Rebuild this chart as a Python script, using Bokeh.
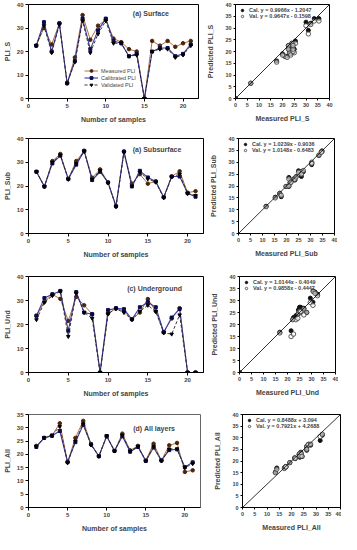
from bokeh.plotting import figure
from bokeh.layouts import column, row
from bokeh.models import Label, Legend, LegendItem, Slope, Range1d
from bokeh.embed import file_html
from bokeh.resources import INLINE

FONT = "Liberation Sans"

samples = list(range(1, 22))

# (a) Surface
s_measured = [22.5, 30, 23, 32, 6.5, 17.5, 35.5, 25, 31, 33.5, 25.5, 24, 21, 20, 0, 24.5, 22.5, 24.5, 22, 23.5, 24.5]
s_calibrated = [22.5, 32.5, 20, 32, 6.5, 16, 34, 21, 29, 34, 24.5, 23.5, 18, 19, 0, 20, 21.5, 21.5, 18, 19, 23]
s_validated = [22.5, 31, 19.5, 31.5, 6.5, 15.5, 33, 19.5, 27.5, 33, 23.5, 23.5, 18, 18.5, 0, 20, 21, 21, 17.5, 18.5, 22.5]

# (a) Subsurface
b_measured = [26, 19.8, 30.5, 33.5, 23, 30.5, 34.8, 23.5, 27, 21.5, 11.5, 34.5, 21, 25, 21, 21.9, 15.3, 24, 26.2, 17.2, 17.8]
b_calibrated = [26, 19.8, 29.5, 32.8, 23, 29, 34.8, 22.5, 26, 21.5, 11.5, 34.5, 19.8, 26.4, 23.6, 21.9, 15.3, 24, 24, 17, 15.5]
b_validated = [26, 19.8, 30, 33, 22.8, 29.5, 34.5, 22.8, 26.5, 21.3, 11.3, 34.2, 20, 25.8, 23, 21.6, 15, 23.8, 25, 16.8, 16]

# (c) Underground
u_measured = [23.5, 29.5, 32.5, 30.7, 21.5, 31.5, 28, 24.3, 0, 24.5, 26.8, 25.5, 22.2, 25, 30.6, 25.5, 16.8, 22.5, 26.8, 0, 0]
u_calibrated = [23.7, 31, 32.6, 34, 17.4, 33.5, 25, 24.3, 0, 26, 26.8, 26.4, 22.2, 27.2, 29.3, 27.2, 16.8, 22.9, 26.5, 0, 0]
u_validated = [22, 29.2, 32, 33.8, 15, 33, 25, 22.6, 0, 24.5, 26.5, 25, 22, 25.5, 28, 25.4, 16.5, 16, 24, 0, 0]

# (d) All layers
a_measured = [23.2, 26.2, 27, 31.7, 17.1, 26.2, 32.6, 23.8, 19.3, 26.8, 21.3, 27.8, 21.5, 23.2, 17.7, 24, 17.7, 23.4, 24.3, 13.4, 14]
a_calibrated = [22.8, 26.2, 27, 28.8, 17.1, 24.6, 31.1, 23.8, 19.3, 26.8, 21.3, 26.8, 21, 22.8, 17.5, 22.6, 17.7, 21.6, 21.9, 15.2, 17]
a_validated = [23, 26.2, 27.2, 30.5, 16.8, 25, 31.5, 23.5, 19.3, 27, 21.3, 27.2, 21.2, 23, 17.5, 23, 17.5, 22, 22, 15, 16.5]

titles = ["(a) Surface", "(a) Subsurface", "(c) Underground", "(d) All layers"]
short = ["PLI_S", "PLI_Sub", "PLI_Und", "PLI_All"]
cal_eq = ["Cal. y = 0.9966x - 1.2047", "Cal. y = 1.0239x - 0.9036",
          "Cal. y = 1.0144x - 0.4049", "Cal. y = 0.8488x + 3.094"]
val_eq = ["Val. y = 0.9647x - 0.1598", "Val. y = 1.0148x - 0.6483",
          "Val. y = 0.9858x - 0.4447", "Val. y = 0.7921x + 4.2688"]
line_y_max = [40, 40, 40, 35]
line_y_ticks = [[0, 10, 20, 30, 40], [0, 10, 20, 30, 40], [0, 10, 20, 30, 40], [0, 5, 10, 15, 20, 25, 30, 35]]
x_ticks = [0, 5, 10, 15, 20]
sc_ticks = [0, 5, 10, 15, 20, 25, 30, 35, 40]

data = [(s_measured, s_calibrated, s_validated),
        (b_measured, b_calibrated, b_validated),
        (u_measured, u_calibrated, u_validated),
        (a_measured, a_calibrated, a_validated)]

# layout per row: (top, frame_h, bottom), line (left, frame_w, right), scatter (left, frame_w, right)
rows_v = [(4, 94, 30), (10, 95, 37), (6, 96, 37), (5, 94, 26)]
line_h = [(22, 176, 6), (25, 178, 4), (24, 179, 4), (21, 179, 4)]
scat_h = [(28, 97, 6), (29, 98, 3), (32, 96, 3), (38, 98, 1)]
title_pos = [(13.5, 36.0), (13.1, 35.4), (12.4, 35.0), (13.4, 29.8)]

M_LINE = "#b3703c"
M_MARK = "#4a2408"
C_LINE = "#3a3aa8"
C_MARK = "#0a0a50"
V_LINE = "#222222"


def style(p, tick_size, label_size, outline="black"):
    for ax in list(p.xaxis) + list(p.yaxis):
        ax.major_label_text_font = FONT
        ax.major_label_text_font_size = tick_size
        ax.major_label_text_font_style = "bold"
        ax.axis_label_text_font = FONT
        ax.axis_label_text_font_size = label_size
        ax.axis_label_text_font_style = "bold"
        ax.major_tick_out = 3
        ax.major_tick_in = 0
        ax.minor_tick_out = 0
        ax.minor_tick_in = 0
        ax.major_label_standoff = 2
        ax.axis_label_standoff = 5
        ax.axis_line_color = "black"
        ax.major_tick_line_color = "black"
    p.xgrid.visible = False
    p.ygrid.visible = False
    p.outline_line_color = outline
    p.outline_line_width = 1
    p.background_fill_color = "white"
    p.border_fill_color = "white"


rows = []
for i in range(4):
    meas, cal, val = data[i]
    top, fh, bot = rows_v[i]
    ll, lw, lr = line_h[i]
    sl, sw, sr = scat_h[i]
    H = top + fh + bot

    p = figure(width=ll + lw + lr, height=H, x_range=Range1d(0, 22),
               y_range=Range1d(0, line_y_max[i]), output_backend="svg",
               toolbar_location=None, min_border_left=ll, min_border_right=lr,
               min_border_top=top, min_border_bottom=bot)
    p.xaxis.ticker = x_ticks
    p.yaxis.ticker = line_y_ticks[i]
    p.xaxis.axis_label = "Number of samples"
    p.yaxis.axis_label = short[i]
    style(p, "6px", "7px", outline="black" if i < 3 else "#666666")
    p.yaxis.axis_label_standoff = 3

    rm_l = p.line(samples, meas, line_color=M_LINE, line_width=1)
    rm_m = p.scatter(samples, meas, marker="circle", size=3.5, fill_color=M_MARK, line_color=M_MARK)
    rc_l = p.line(samples, cal, line_color=C_LINE, line_width=1.1)
    rc_m = p.scatter(samples, cal, marker="square", size=3, fill_color=C_MARK, line_color=C_MARK)
    rv_l = p.line(samples, val, line_color=V_LINE, line_width=0.9, line_dash="3 2")
    rv_m = p.scatter(samples, val, marker="inverted_triangle", size=3.5, fill_color="black", line_color="black")

    tx, ty = title_pos[i]
    p.add_layout(Label(x=tx, y=ty, text=titles[i], text_font=FONT, text_font_size="7px",
                       text_font_style="bold", text_baseline="middle", text_align="left"))

    if i == 0:
        leg = Legend(items=[LegendItem(label="Measured PLI", renderers=[rm_l, rm_m]),
                            LegendItem(label="Calibrated PLI", renderers=[rc_l, rc_m]),
                            LegendItem(label="Validated PLI", renderers=[rv_l, rv_m])],
                     location=(56, 10), label_text_font=FONT, label_text_font_size="5.5px",
                     glyph_width=14, glyph_height=7, label_height=7, spacing=0, padding=0,
                     margin=0, label_standoff=3, border_line_color=None,
                     background_fill_alpha=0)
        p.add_layout(leg)

    q = figure(width=sl + sw + sr, height=H, x_range=Range1d(0, 40), y_range=Range1d(0, 40),
               output_backend="svg", toolbar_location=None, min_border_left=sl,
               min_border_right=sr, min_border_top=top, min_border_bottom=bot)
    q.xaxis.ticker = sc_ticks
    q.yaxis.ticker = sc_ticks
    q.xaxis.axis_label = "Measured " + short[i]
    q.yaxis.axis_label = "Predicted " + short[i]
    style(q, "5.5px", "7px")
    q.xaxis.major_tick_out = 2
    q.yaxis.major_tick_out = 2
    q.yaxis.axis_label_standoff = 8
    q.add_layout(Slope(gradient=1, y_intercept=0, line_color="black", line_width=0.8))
    r_cal = q.scatter(meas, cal, marker="circle", size=4, fill_color="#111111", line_color="#111111")
    r_val = q.scatter(meas, val, marker="circle", size=4.5, fill_color="white", fill_alpha=0.6,
                      line_color="#333333", line_width=0.8)
    sleg = Legend(items=[LegendItem(label=cal_eq[i], renderers=[r_cal]),
                         LegendItem(label=val_eq[i], renderers=[r_val])],
                  location="top_left", margin=3, label_text_font=FONT,
                  label_text_font_size="5.5px", label_text_font_style="bold",
                  glyph_width=8, glyph_height=6, label_height=6, spacing=0, padding=0,
                  label_standoff=3, border_line_color=None, background_fill_alpha=0)
    q.add_layout(sleg)

    rows.append(row(p, q))

layout = column(*rows)
open("out.html", "w").write(file_html(layout, INLINE))
